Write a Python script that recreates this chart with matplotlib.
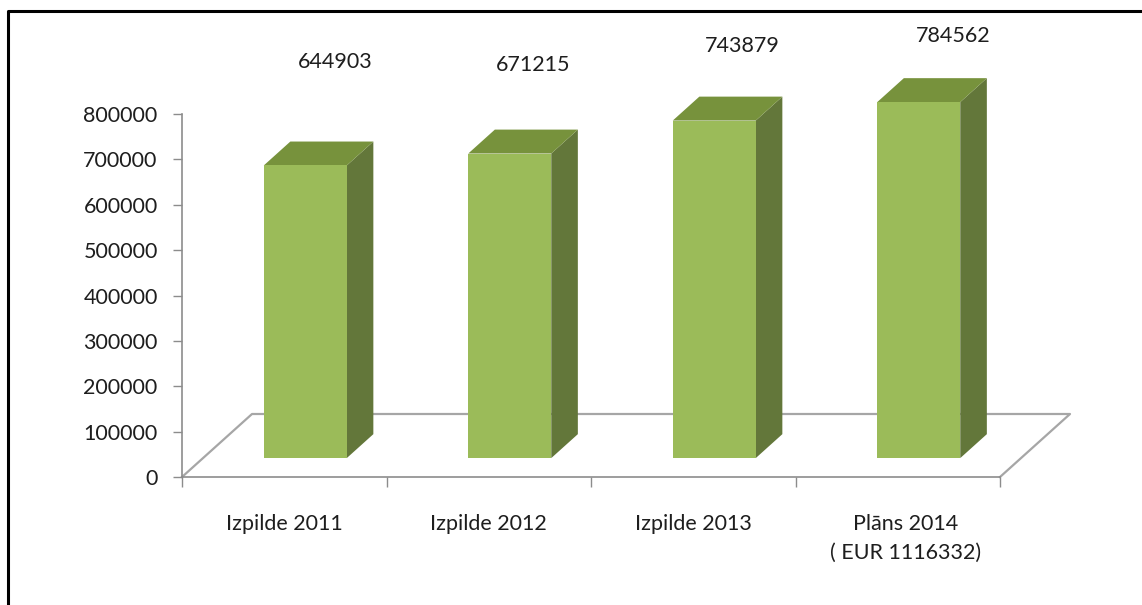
import matplotlib
matplotlib.use("Agg")
import matplotlib.pyplot as plt
from matplotlib.patches import Polygon
from matplotlib.lines import Line2D
from matplotlib.transforms import ScaledTranslation

# ---- data ----
categories = ["Izpilde 2011", "Izpilde 2012", "Izpilde 2013", "Plāns 2014\n( EUR 1116332)"]
values = [644903, 671215, 743879, 784562]
value_labels = ["644903", "671215", "743879", "784562"]
yticks = [0, 100000, 200000, 300000, 400000, 500000, 600000, 700000, 800000]

plt.rcParams['font.family'] = ['Lato', 'DejaVu Sans']

W, H = 1142, 605
fig = plt.figure(figsize=(W / 100, H / 100), dpi=100)
fig.patch.set_facecolor('white')

# axes box in pixels
ax_l, ax_r, ax_t, ax_b = 182, 1000, 114, 477
ax = fig.add_axes([ax_l / W, (H - ax_b) / H, (ax_r - ax_l) / W, (ax_b - ax_t) / H])
ncat = len(categories)
ymax = 800000
ax.set_xlim(0, ncat)
ax.set_ylim(0, ymax)
ax.set_facecolor('none')

sx = (ax_r - ax_l) / ncat        # px per category
sy = (ax_b - ax_t) / ymax        # px per value unit

# floor depth vector (pixels) -> data units
floor_dx_px, floor_dy_px = 70, 63
fdx = floor_dx_px / sx
fdy = floor_dy_px / sy

grey = '#8C8C8C'
# floor outline (left diagonal, back edge, right diagonal)
ax.add_line(Line2D([0, fdx, ncat + fdx, ncat], [0, fdy, fdy, 0],
                   color='#A6A6A6', lw=1.6, clip_on=False, zorder=1))

# bars
front_c, top_c, side_c = '#9BBB59', '#77923C', '#63773A'
bw = 83 / sx
d0 = 0.30       # depth fraction where bar front sits
bd = 0.38       # bar depth fraction
for i, v in enumerate(values):
    x0 = i + (1 - bw) / 2 + d0 * fdx
    b = d0 * fdy
    x1 = x0 + bw
    t = b + v
    ddx, ddy = bd * fdx, bd * fdy
    ax.add_patch(Polygon([(x1, b), (x1 + ddx, b + ddy), (x1 + ddx, t + ddy), (x1, t)],
                         closed=True, fc=side_c, ec='none', clip_on=False, zorder=3))
    ax.add_patch(Polygon([(x0, t), (x1, t), (x1 + ddx, t + ddy), (x0 + ddx, t + ddy)],
                         closed=True, fc=top_c, ec='none', clip_on=False, zorder=3))
    ax.add_patch(Polygon([(x0, b), (x1, b), (x1, t), (x0, t)],
                         closed=True, fc=front_c, ec='none', clip_on=False, zorder=4))

# spines / ticks
for s in ['top', 'right']:
    ax.spines[s].set_visible(False)
for s in ['left', 'bottom']:
    ax.spines[s].set_color(grey)
    ax.spines[s].set_linewidth(1.2)

ax.set_yticks(yticks)
ax.set_yticklabels([str(t) for t in yticks])
ax.tick_params(axis='y', direction='out', length=6.5, width=1, color=grey,
               pad=11, labelsize=15.5, labelcolor='#1E1E1E')

ax.set_xticks(range(ncat + 1))
ax.set_xticklabels([''] * (ncat + 1))
ax.tick_params(axis='x', which='major', direction='out', length=7, width=1, color=grey)
ax.set_xticks([i + 0.5 for i in range(ncat)], minor=True)
ax.set_xticklabels(categories, minor=True)
ax.tick_params(axis='x', which='minor', length=0, pad=27, labelsize=15.5,
               labelcolor='#1E1E1E')
minor_labels = ax.get_xticklabels(minor=True)
for lab in minor_labels:
    lab.set_linespacing(1.5)
# last (two-line) label sits slightly right of its category centre
minor_labels[-1].set_transform(minor_labels[-1].get_transform() +
                               ScaledTranslation(8 / 100, 0, fig.dpi_scale_trans))

# value labels (placed like the reference, above bars)
label_pos_px = [(335, 62), (533, 65), (742, 46), (953, 36)]
for txt, (px, py) in zip(value_labels, label_pos_px):
    fig.text(px / W, 1 - py / H, txt, ha='center', va='center',
             fontsize=15.5, color='#1E1E1E')

# outer frame (left and top black lines)
fig.add_artist(Line2D([8 / W, 8 / W, 1.0], [0.0, 1 - 11 / H, 1 - 11 / H],
                      color='black', lw=2.2, transform=fig.transFigure))

fig.savefig('out.png', dpi=100)
